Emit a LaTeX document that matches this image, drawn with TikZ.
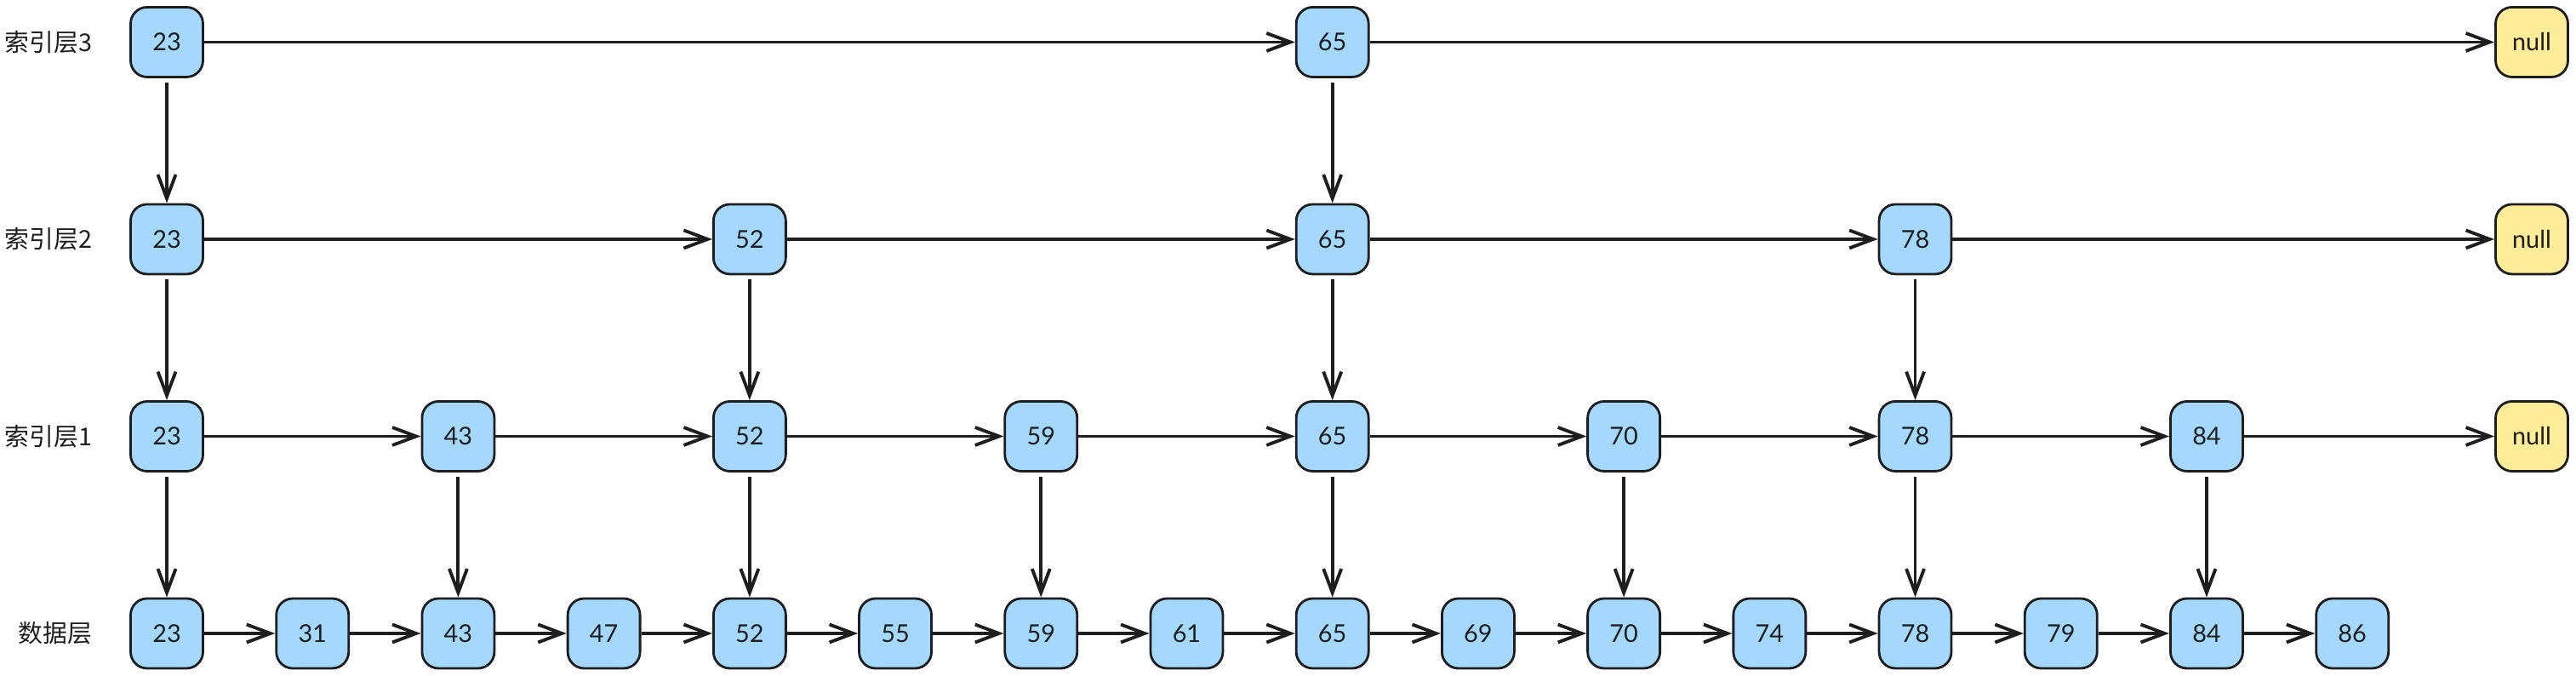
\documentclass[tikz,border=0pt]{standalone}
\usepackage{fontspec}
\setmainfont{Lato}
\newfontfamily\cjk{Noto Sans CJK SC}
\usetikzlibrary{arrows.meta, positioning}
\definecolor{listdark}{HTML}{1E1E1E}
\definecolor{listblue}{HTML}{A5D8FF}
\definecolor{listyellow}{HTML}{FFEC99}
\tikzset{
  box/.style={draw=listdark, fill=listblue, rounded corners=5.5pt, line width=0.8pt,
              minimum width=8.5mm, minimum height=8.2mm, inner sep=0pt,
              font=\fontsize{8.2}{10}\selectfont, text=listdark},
  nullbox/.style={box, fill=listyellow},
  flow/.style={-{Straight Barb[length=2.8mm, width=2.1mm]}, line width=1.1pt, draw=listdark},
  down/.style={flow, shorten <=0.5mm},
  lbl/.style={font=\cjk\fontsize{8.2}{10}\selectfont, text=listdark, anchor=east, inner sep=0pt},
}

\begin{document}
\begin{tikzpicture}[node distance=14.67mm and 8.34mm]
  \useasboundingbox (0,0) rectangle (30.27,7.94);

  % data layer
  \node[box] (d23) at (1.96,0.50) {23};
  \node[box, right=of d23] (d31) {31};
  \node[box, right=of d31] (d43) {43};
  \node[box, right=of d43] (d47) {47};
  \node[box, right=of d47] (d52) {52};
  \node[box, right=of d52] (d55) {55};
  \node[box, right=of d55] (d59) {59};
  \node[box, right=of d59] (d61) {61};
  \node[box, right=of d61] (d65) {65};
  \node[box, right=of d65] (d69) {69};
  \node[box, right=of d69] (d70) {70};
  \node[box, right=of d70] (d74) {74};
  \node[box, right=of d74] (d78) {78};
  \node[box, right=of d78] (d79) {79};
  \node[box, right=of d79] (d84) {84};
  \node[box, right=of d84] (d86) {86};

  % index layer 1
  \node[box, above=of d23] (i1-23) {23};
  \node[box, above=of d43] (i1-43) {43};
  \node[box, above=of d52] (i1-52) {52};
  \node[box, above=of d59] (i1-59) {59};
  \node[box, above=of d65] (i1-65) {65};
  \node[box, above=of d70] (i1-70) {70};
  \node[box, above=of d78] (i1-78) {78};
  \node[box, above=of d84] (i1-84) {84};

  % index layer 2
  \node[box, above=of i1-23] (i2-23) {23};
  \node[box, above=of i1-52] (i2-52) {52};
  \node[box, above=of i1-65] (i2-65) {65};
  \node[box, above=of i1-78] (i2-78) {78};

  % index layer 3
  \node[box, above=of i2-23] (i3-23) {23};
  \node[box, above=of i2-65] (i3-65) {65};

  % null ends
  \coordinate (nullcol) at (29.75,0);
  \node[nullbox] (null3) at (nullcol |- i3-23) {null};
  \node[nullbox] (null2) at (nullcol |- i2-23) {null};
  \node[nullbox] (null1) at (nullcol |- i1-23) {null};

  % layer names
  \coordinate (lblcol) at (1.09,0);
  \node[lbl] (lbl3) at (lblcol |- i3-23) {索引层3};
  \node[lbl] (lbl2) at (lblcol |- i2-23) {索引层2};
  \node[lbl] (lbl1) at (lblcol |- i1-23) {索引层1};
  \node[lbl] (lbl0) at (lblcol |- d23) {数据层};

  % horizontal links
  \draw[flow] (i3-23) -- (i3-65);
  \draw[flow] (i3-65) -- (null3);

  \draw[flow] (i2-23) -- (i2-52);
  \draw[flow] (i2-52) -- (i2-65);
  \draw[flow] (i2-65) -- (i2-78);
  \draw[flow] (i2-78) -- (null2);

  \draw[flow] (i1-23) -- (i1-43);
  \draw[flow] (i1-43) -- (i1-52);
  \draw[flow] (i1-52) -- (i1-59);
  \draw[flow] (i1-59) -- (i1-65);
  \draw[flow] (i1-65) -- (i1-70);
  \draw[flow] (i1-70) -- (i1-78);
  \draw[flow] (i1-78) -- (i1-84);
  \draw[flow] (i1-84) -- (null1);

  \draw[flow] (d23) -- (d31);
  \draw[flow] (d31) -- (d43);
  \draw[flow] (d43) -- (d47);
  \draw[flow] (d47) -- (d52);
  \draw[flow] (d52) -- (d55);
  \draw[flow] (d55) -- (d59);
  \draw[flow] (d59) -- (d61);
  \draw[flow] (d61) -- (d65);
  \draw[flow] (d65) -- (d69);
  \draw[flow] (d69) -- (d70);
  \draw[flow] (d70) -- (d74);
  \draw[flow] (d74) -- (d78);
  \draw[flow] (d78) -- (d79);
  \draw[flow] (d79) -- (d84);
  \draw[flow] (d84) -- (d86);

  % vertical links
  \draw[down] (i3-23) -- (i2-23);
  \draw[down] (i3-65) -- (i2-65);

  \draw[down] (i2-23) -- (i1-23);
  \draw[down] (i2-52) -- (i1-52);
  \draw[down] (i2-65) -- (i1-65);
  \draw[down] (i2-78) -- (i1-78);

  \draw[down] (i1-23) -- (d23);
  \draw[down] (i1-43) -- (d43);
  \draw[down] (i1-52) -- (d52);
  \draw[down] (i1-59) -- (d59);
  \draw[down] (i1-65) -- (d65);
  \draw[down] (i1-70) -- (d70);
  \draw[down] (i1-78) -- (d78);
  \draw[down] (i1-84) -- (d84);
\end{tikzpicture}
\end{document}
